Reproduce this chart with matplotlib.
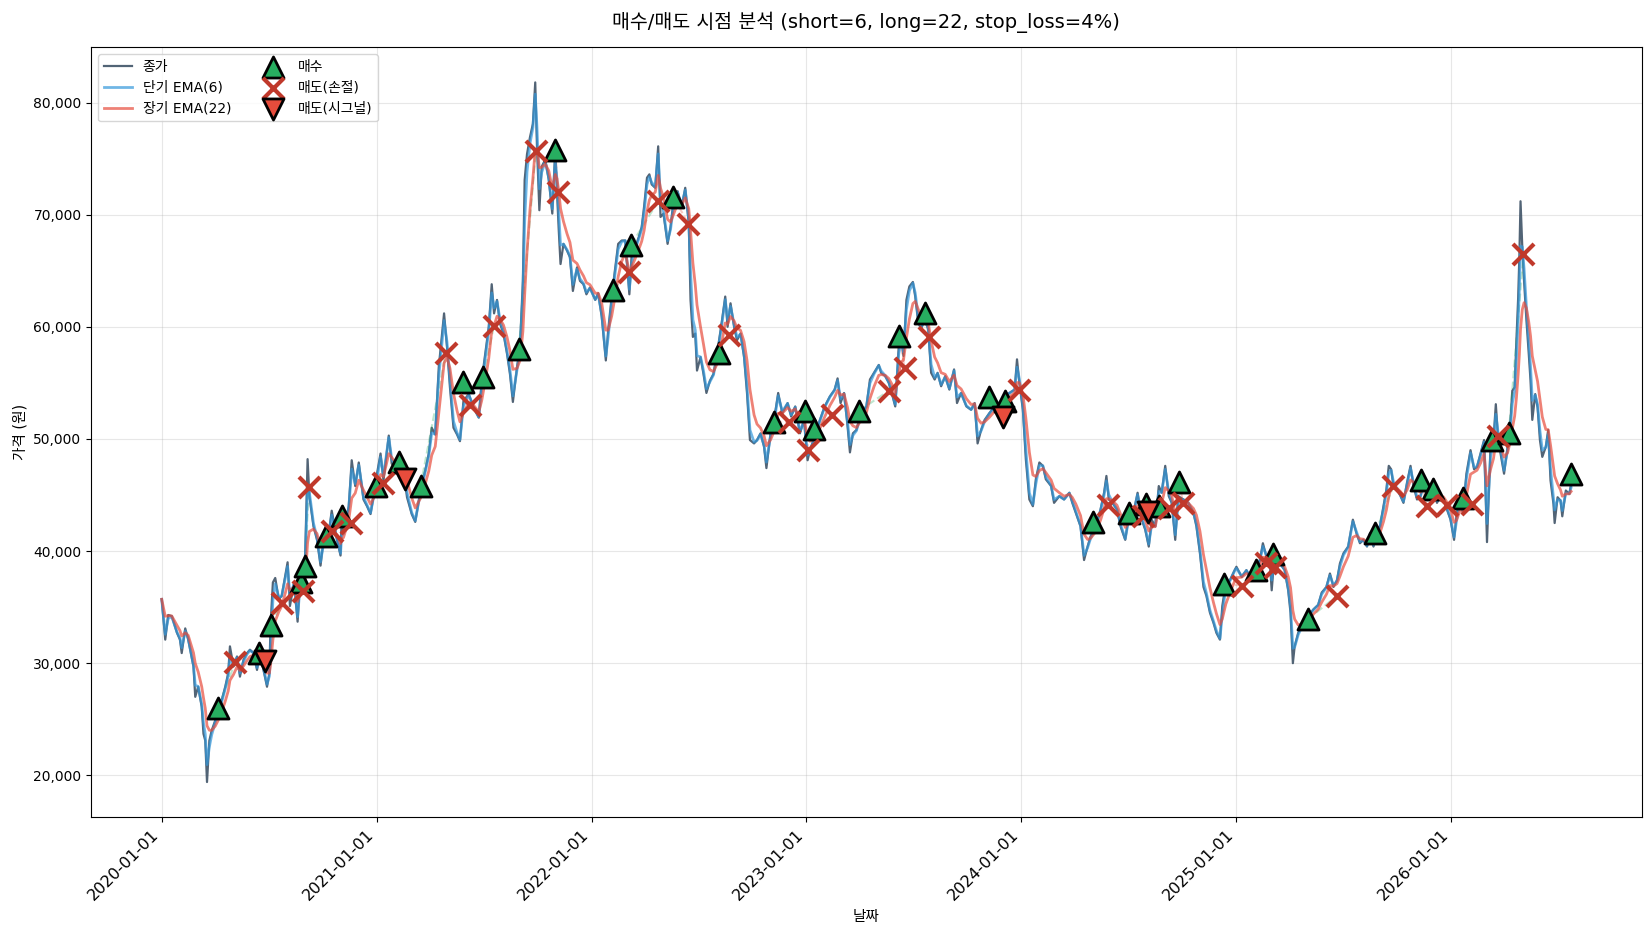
import numpy as np
import pandas as pd
import matplotlib
matplotlib.use("Agg")
import matplotlib.pyplot as plt
import matplotlib.dates as mdates
from matplotlib.ticker import FuncFormatter

plt.rcParams['font.family'] = ['DejaVu Sans', 'Noto Sans CJK KR']
plt.rcParams['axes.unicode_minus'] = False

BASE = pd.Timestamp('2020-01-01')

# ---- closing price (days since 2020-01-01, value) ----
close_days = [
    0, 6, 11, 17, 26, 31, 34, 40, 45, 54, 57, 62, 68, 71, 74, 77, 81, 85, 91, 96,
    102, 108, 113, 116, 122, 128, 133, 139, 145, 150, 156, 162, 167, 173, 179, 183, 185, 189, 193, 199,
    204, 210, 214, 218, 225, 231, 236, 240, 244, 248, 251, 258, 264, 270, 275, 279, 284, 289, 298, 304,
    306, 309, 318, 323, 329, 335, 343, 349, 355, 363, 366, 372, 377, 386, 391, 400, 408, 413, 417, 425,
    431, 440, 448, 454, 459, 465, 471, 475, 480, 485, 490, 496, 502, 507, 513, 522, 530, 539, 544, 550,
    556, 561, 565, 570, 575, 581, 587, 592, 597, 604, 609, 614, 617, 621, 626, 631, 635, 638, 642, 646,
    652, 658, 664, 669, 672, 675, 678, 683, 689, 694, 699, 706, 711, 717, 722, 728, 737, 742, 748, 755,
    759, 765, 771, 776, 782, 788, 795, 799, 805, 811, 816, 820, 825, 829, 833, 839, 844, 848, 853, 860,
    865, 870, 877, 884, 890, 896, 899, 903, 907, 910, 916, 921, 926, 932, 938, 944, 951, 958, 962, 967,
    973, 978, 984, 990, 995, 1000, 1007, 1012, 1018, 1024, 1028, 1035, 1041, 1048, 1055, 1064, 1070, 1077, 1085, 1092,
    1098, 1102, 1110, 1119, 1127, 1136, 1144, 1149, 1154, 1160, 1166, 1170, 1175, 1181, 1189, 1198, 1204, 1211, 1219, 1223,
    1230, 1236, 1241, 1247, 1253, 1257, 1261, 1266, 1271, 1277, 1281, 1286, 1291, 1297, 1303, 1308, 1314, 1319, 1325, 1332,
    1339, 1347, 1352, 1359, 1368, 1376, 1382, 1387, 1393, 1399, 1407, 1416, 1424, 1433, 1441, 1450, 1454, 1458, 1464, 1469,
    1475, 1481, 1486, 1492, 1498, 1503, 1512, 1517, 1526, 1534, 1543, 1548, 1554, 1562, 1568, 1574, 1579, 1588, 1596, 1602,
    1606, 1610, 1616, 1624, 1630, 1638, 1644, 1652, 1659, 1666, 1672, 1678, 1683, 1689, 1695, 1700, 1706, 1712, 1717, 1723,
    1728, 1737, 1745, 1754, 1759, 1765, 1771, 1776, 1782, 1788, 1793, 1799, 1803, 1809, 1816, 1824, 1827, 1836, 1844, 1850,
    1858, 1867, 1872, 1878, 1884, 1887, 1892, 1901, 1909, 1915, 1919, 1923, 1926, 1932, 1941, 1949, 1958, 1966, 1972, 1980,
    1986, 1992, 1998, 2003, 2009, 2017, 2025, 2031, 2037, 2043, 2049, 2054, 2060, 2066, 2071, 2077, 2082, 2086, 2090, 2094,
    2100, 2106, 2111, 2117, 2123, 2128, 2134, 2140, 2145, 2151, 2157, 2162, 2168, 2174, 2179, 2185, 2191, 2197, 2201, 2207,
    2212, 2218, 2225, 2231, 2236, 2242, 2248, 2253, 2259, 2264, 2268, 2272, 2276, 2282, 2288, 2293, 2296, 2300, 2303, 2306,
    2308, 2310, 2313, 2316, 2320, 2324, 2327, 2330, 2335, 2339, 2343, 2347, 2353, 2357, 2361, 2366, 2368, 2373, 2378, 2381,
    2387, 2393, 2396,
]
close_vals = [
    35700, 32100, 34300, 34200, 32700, 32100, 30900, 33100, 32100, 29700, 27000, 27900, 26100, 23700, 23100, 19400, 23100, 24000, 24900, 25800,
    26700, 27900, 29100, 31500, 29700, 30600, 28800, 30300, 30900, 31200, 30900, 29400, 30900, 29400, 27900, 29100, 33400, 37200, 37600, 35700,
    36000, 37800, 39000, 35100, 37200, 33700, 38100, 36400, 39900, 48200, 44900, 42200, 41000, 38700, 41000, 41300, 41600, 43600, 41000, 39600,
    43100, 41600, 44000, 48100, 45800, 47900, 44600, 44000, 43300, 45800, 46900, 48700, 46300, 50300, 47800, 47200, 46900, 46400, 44800, 43300,
    42600, 45400, 47200, 48700, 51000, 50400, 56400, 58500, 61200, 58200, 54600, 51000, 50400, 49800, 53400, 54000, 52800, 51900, 55200, 57600,
    60000, 63800, 61200, 62400, 60300, 59400, 57600, 55800, 53300, 56400, 58200, 64100, 73100, 75400, 76900, 78100, 81800, 76000, 70400, 74300,
    74900, 73100, 70100, 75800, 72000, 68600, 65600, 67400, 66800, 66200, 63200, 65300, 64100, 63800, 62900, 63500, 62400, 63000, 60900, 57000,
    59700, 62700, 65300, 67400, 67700, 67700, 62900, 66500, 67100, 68000, 68900, 70700, 73300, 73600, 72700, 72400, 76100, 69800, 70100, 67400,
    68900, 71200, 72100, 70700, 72400, 69200, 62400, 59100, 59400, 56100, 57300, 55800, 54100, 55200, 55800, 57600, 60000, 62700, 60000, 62100,
    60000, 58800, 59400, 57300, 54100, 49900, 49600, 49900, 50500, 49300, 47400, 50500, 51700, 54100, 52300, 53200, 52000, 52900, 50500, 51700,
    48100, 49000, 50200, 51700, 52900, 53800, 54400, 55400, 53200, 54100, 51100, 48800, 50500, 50800, 52300, 52900, 55300, 55900, 56600, 55900,
    55600, 55000, 54100, 52900, 58300, 59200, 57400, 62400, 63600, 64000, 62700, 60400, 59800, 60700, 59800, 55900, 55300, 55900, 54700, 55600,
    54400, 56200, 53200, 54100, 52900, 52600, 53200, 49600, 50800, 51700, 52300, 52900, 53200, 53800, 54100, 54400, 57100, 55000, 52600, 48200,
    44600, 44000, 46400, 47900, 47600, 46400, 45800, 44300, 44900, 44600, 45200, 44300, 43400, 42200, 39200, 40400, 41300, 42200, 43700, 45200,
    46700, 44600, 44300, 43700, 42200, 41000, 43100, 43400, 45200, 42800, 41900, 40400, 42800, 42200, 45800, 45200, 47600, 44900, 44300, 41000,
    44900, 44600, 44300, 43400, 42200, 39800, 36800, 36000, 34500, 33600, 32700, 32100, 35100, 37100, 37400, 38300, 38600, 37700, 38300, 37700,
    38300, 39200, 40700, 39500, 38900, 36500, 39800, 38900, 38300, 36500, 34500, 30000, 31500, 32700, 33600, 34200, 34800, 35200, 36300, 36800,
    38000, 36800, 37400, 38900, 39800, 40400, 42800, 41600, 40700, 41000, 40400, 41600, 40400, 41900, 42200, 44000, 45500, 47600, 47300, 45800,
    45500, 44900, 44300, 46100, 47600, 45800, 44600, 44900, 46100, 44900, 45800, 45500, 44300, 44900, 44600, 43700, 42800, 41000, 43100, 44800,
    43400, 46900, 49000, 47300, 47500, 48700, 49900, 40800, 49300, 49900, 53100, 49900, 48700, 46900, 49300, 51700, 54300, 54600, 58800, 62600,
    66200, 71200, 67100, 64100, 60600, 57600, 55200, 51700, 54000, 52800, 49900, 48400, 49300, 50800, 46300, 44200, 42500, 44800, 44500, 43100,
    45400, 45100, 46000,
]

# ---- trade markers ----
buy_days = [96, 166, 186, 237, 244, 279, 306, 364, 403, 440, 512, 546, 607, 669, 768, 798, 870, 947,
            1041, 1093, 1109, 1185, 1254, 1298, 1406, 1434, 1583, 1645, 1674, 1695, 1730, 1806, 1861,
            1890, 1948, 2063, 2141, 2161, 2212, 2262, 2290, 2396]
buy_vals = [26000, 30900, 33400, 37200, 38700, 41300, 43100, 45800, 47900, 45800, 55100, 55500, 58000,
            75800, 63300, 67300, 71600, 57700, 51500, 52500, 50900, 52500, 59200, 61200, 53700, 53400,
            42600, 43400, 44200, 44000, 46200, 37100, 38300, 39700, 33900, 41600, 46300, 45500, 44700,
            49900, 50500, 46900]

stop_days = [125, 204, 240, 250, 289, 321, 377, 483, 524, 565, 636, 674, 795, 844, 895, 964, 1066,
             1099, 1140, 1236, 1263, 1304, 1458, 1609, 1668, 1712, 1736, 1837, 1878, 1892, 1998, 2094,
             2151, 2185, 2227, 2272, 2315]
stop_vals = [30100, 35400, 36400, 45700, 41800, 42500, 46100, 57700, 53000, 60100, 75700, 72000, 64900,
             71200, 69200, 59300, 51500, 49000, 52100, 54300, 56300, 59100, 54400, 44100, 43100, 43800,
             44300, 36900, 38900, 38600, 36000, 45800, 44000, 44100, 44200, 50300, 66500]

signal_days = [175, 413, 1431, 1676]
signal_vals = [30200, 46400, 52000, 43500]

SHORT_SPAN, LONG_SPAN = 6, 22


def to_dates(days):
    return BASE + pd.to_timedelta(np.asarray(days), unit='D')


def ema_daily(days, vals, span):
    """EMA with a daily span, applied to irregularly spaced samples (gap-aware)."""
    a = 2.0 / (span + 1)
    out = np.empty(len(vals))
    out[0] = vals[0]
    for i in range(1, len(vals)):
        gap = days[i] - days[i - 1]
        ai = 1 - (1 - a) ** gap
        out[i] = out[i - 1] + ai * (vals[i] - out[i - 1])
    return out


dates = to_dates(close_days)
ema_s = ema_daily(close_days, close_vals, SHORT_SPAN)
ema_l = ema_daily(close_days, close_vals, LONG_SPAN)

fig = plt.figure(figsize=(16.5, 9.3), dpi=100)
ax = fig.add_axes([0.0553, 0.1215, 0.9396, 0.8275])

ax.plot(dates, close_vals, color='#34495e', lw=1.6, alpha=0.85, label='종가', zorder=2)
ax.plot(dates, ema_s, color='#3498db', lw=2.0, alpha=0.7, label=f'단기 EMA({SHORT_SPAN})', zorder=3)
ax.plot(dates, ema_l, color='#e74c3c', lw=2.0, alpha=0.7, label=f'장기 EMA({LONG_SPAN})', zorder=3)

# trade connection lines
events = sorted([(d, v, 'b') for d, v in zip(buy_days, buy_vals)] +
                [(d, v, 's') for d, v in zip(stop_days, stop_vals)] +
                [(d, v, 's') for d, v in zip(signal_days, signal_vals)])
open_trade = None
for d, v, k in events:
    if k == 'b':
        open_trade = (d, v)
    elif open_trade is not None:
        c = '#27ae60' if v > open_trade[1] else '#e74c3c'
        ax.plot(to_dates([open_trade[0], d]), [open_trade[1], v], ls='--', color=c, alpha=0.3, lw=1.5, zorder=2)
        open_trade = None

ax.scatter(to_dates(buy_days), buy_vals, marker='^', s=230, color='#27ae60', edgecolor='black',
           linewidths=2, label='매수', zorder=6)
ax.scatter(to_dates(stop_days), stop_vals, marker='x', s=230, color='#c0392b',
           linewidths=3, label='매도(손절)', zorder=6)
ax.scatter(to_dates(signal_days), signal_vals, marker='v', s=230, color='#e74c3c', edgecolor='black',
           linewidths=2, label='매도(시그널)', zorder=6)

ax.set_title(f'매수/매도 시점 분석 (short={SHORT_SPAN}, long={LONG_SPAN}, stop_loss=4%)', fontsize=14, pad=14)
ax.set_xlabel('날짜', fontsize=10.5)
ax.set_ylabel('가격 (원)', fontsize=10.5)
ax.xaxis.set_major_locator(mdates.YearLocator())
ax.xaxis.set_major_formatter(mdates.DateFormatter('%Y-%m-%d'))
ax.yaxis.set_major_formatter(FuncFormatter(lambda v, p: f'{v:,.0f}'))
ax.tick_params(axis='y', labelsize=10)
ax.tick_params(axis='x', labelsize=11.5)
plt.setp(ax.get_xticklabels(), rotation=45, ha='right')
ax.grid(True, alpha=0.3)
ax.legend(loc='upper left', ncol=2, fontsize=10)

fig.savefig('out.png', dpi=100)
